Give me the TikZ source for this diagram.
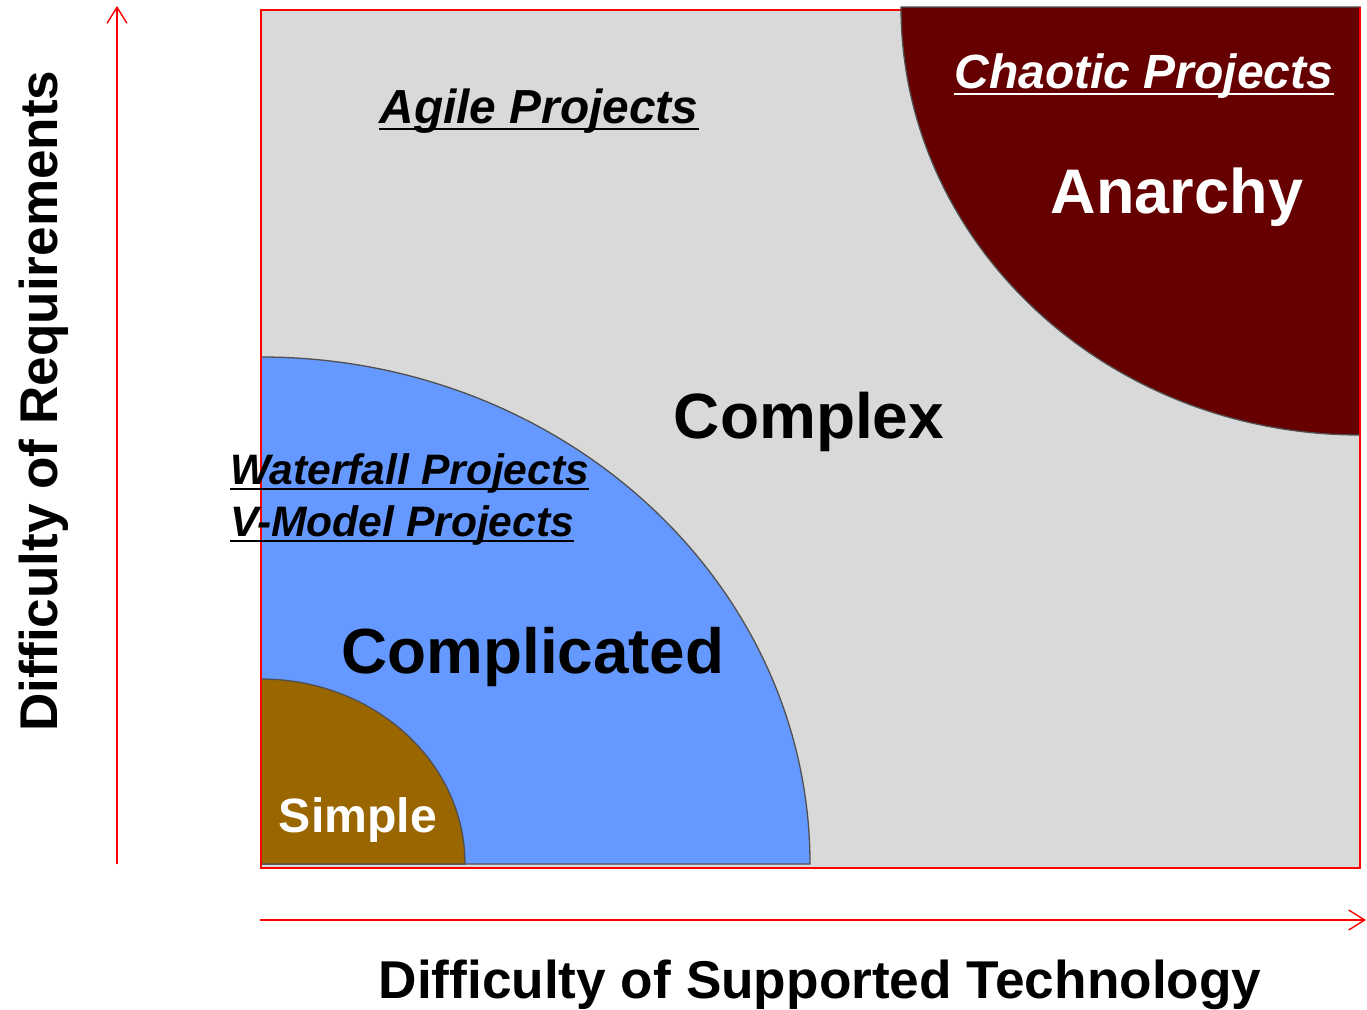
\documentclass[tikz,border=0pt]{standalone}
\usepackage{fontspec}
\setmainfont{Liberation Sans}
\usetikzlibrary{arrows.meta}
\definecolor{bggray}{HTML}{D9D9D9}
\definecolor{cblue}{HTML}{6699FF}
\definecolor{cbrown}{HTML}{996600}
\definecolor{cdark}{HTML}{660000}
\definecolor{edgegray}{HTML}{505050}
\tikzset{
  axis/.style={draw=red, line width=1.4pt, -{Straight Barb[length=16pt,width=20pt,line width=1.4pt]}},
  zone/.style={draw=edgegray, line width=1.3pt},
  lbl/.style={inner sep=0pt, font=\bfseries},
  ulbl/.style={inner sep=0pt, font=\bfseries\itshape},
  uline/.style={line width=2.6pt},
}
\begin{document}
\begin{tikzpicture}[x=1pt,y=-1pt]
\useasboundingbox (0,0) rectangle (1367,1009);
% background frame
\fill[bggray] (261,10) rectangle (1360,868);
% complicated zone
\filldraw[zone, fill=cblue] (261,864) -- (261,357) arc[start angle=90, end angle=0, x radius=549pt, y radius=507pt] -- cycle;
% simple zone
\filldraw[zone, fill=cbrown] (261,864) -- (261,679) arc[start angle=90, end angle=0, x radius=204pt, y radius=185pt] -- cycle;
% frame border
\draw[red, line width=1.4pt] (261,10) rectangle (1360,868);
% chaotic zone
\filldraw[zone, fill=cdark] (901,7) arc[start angle=180, end angle=270, x radius=459pt, y radius=428pt] -- (1360,7) -- cycle;
\draw[red, line width=1.4pt] (1360,7) -- (1360,435);
% axes
\coordinate (ya) at (117,864);
\coordinate (yb) at (117,6);
\coordinate (xa) at (260,920);
\coordinate (xb) at (1366,920);
\draw[axis] (ya) -- (yb);
\draw[axis] (xa) -- (xb);
% axis labels
\node[lbl, anchor=base, rotate=90, font=\bfseries\fontsize{53.1}{60}\selectfont] (ylab) at (57,401) {Difficulty of Requirements};
\node[lbl, anchor=base, font=\bfseries\fontsize{53.2}{60}\selectfont] (xlab) at (820,998) {Difficulty of Supported Technology};
% zone names
\node[lbl, anchor=base, font=\bfseries\fontsize{64}{70}\selectfont] (complex) at (809,438) {Complex};
\node[lbl, anchor=base, font=\bfseries\fontsize{63.8}{70}\selectfont] (complicated) at (533,673) {Complicated};
\node[lbl, anchor=base, text=white, font=\bfseries\fontsize{63}{70}\selectfont] (anarchy) at (1177,213) {Anarchy};
\node[lbl, anchor=base, text=white, font=\bfseries\fontsize{48.2}{55}\selectfont] (simple) at (358,832) {Simple};
% project labels
\node[ulbl, anchor=base, font=\bfseries\itshape\fontsize{47.8}{54}\selectfont] (agile) at (539,123) {Agile Projects};
\draw[uline] ([yshift=-6pt]agile.base west) -- ([yshift=-6pt]agile.base east);
\node[ulbl, anchor=base, text=white, font=\bfseries\itshape\fontsize{48}{54}\selectfont] (chaotic) at (1144,88) {Chaotic Projects};
\draw[uline, white] ([yshift=-6pt]chaotic.base west) -- ([yshift=-6pt]chaotic.base east);
\node[ulbl, anchor=base west, font=\bfseries\itshape\fontsize{42.6}{50}\selectfont] (waterfall) at (230,484) {Waterfall Projects};
\draw[uline] ([yshift=-5pt]waterfall.base west) -- ([yshift=-5pt]waterfall.base east);
\node[ulbl, anchor=base west, font=\bfseries\itshape\fontsize{42.6}{50}\selectfont] (vmodel) at (230,536) {V-Model Projects};
\draw[uline] ([yshift=-5pt]vmodel.base west) -- ([yshift=-5pt]vmodel.base east);
\end{tikzpicture}
\end{document}
